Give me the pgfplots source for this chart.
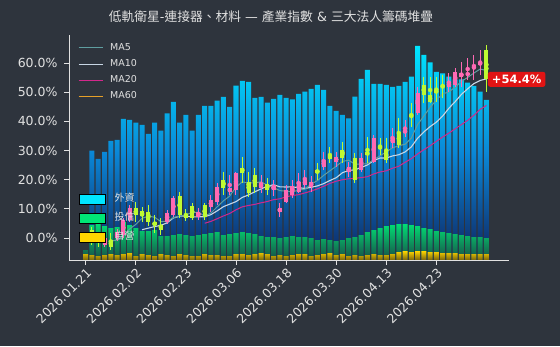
\documentclass[border=0pt]{standalone}
\usepackage{fontspec}
\setmainfont{DejaVu Sans}
\newfontfamily\cjk{Noto Sans CJK TC}
\usepackage{pgfplots}
\usepackage{pgfplotstable}
\pgfplotsset{compat=1.18}

\definecolor{bgc}{RGB}{46,52,61}
\definecolor{lgray}{RGB}{225,225,225}
\definecolor{pinkc}{RGB}{255,105,180}
\definecolor{limec}{RGB}{190,250,50}
\definecolor{ma5c}{RGB}{95,158,160}
\definecolor{ma10c}{RGB}{200,214,229}
\definecolor{ma20c}{RGB}{210,40,140}
\definecolor{ma60c}{RGB}{230,160,40}
\definecolor{cyanT}{RGB}{0,229,255}
\definecolor{cyanM}{RGB}{10,135,215}
\definecolor{cyanB}{RGB}{15,35,95}
\definecolor{grnT}{RGB}{0,230,118}
\definecolor{grnB}{RGB}{25,75,70}
\definecolor{ylwT}{RGB}{255,214,0}
\definecolor{ylwB}{RGB}{120,100,10}
\definecolor{redc}{RGB}{225,20,20}

% chip bars (heights in pixel units above the baseline)
\pgfplotstableread{
i inst itr dlr
0 2 10 6
1 109.3 35 5
2 101 36 4
3 108 34 5
4 119 32 6
5 120 33 5
6 141 38 6
7 140 35 7
8 137.3 32 4
9 135 29 6
10 126 29 5
11 137.3 30 4
12 129.3 24 6
13 146.7 24 5
14 158 25 4
15 137.3 26 6
16 145 25 5
17 129.3 24 4
18 145 25 4
19 154 26 6
20 154 27 5
21 159.3 28 5
22 163 25 4
23 153 26 4
24 174.3 27 6
25 179 28 6
26 178 27 5
27 162 26 6
28 163 24 7
29 157.3 23 6
30 161 23 4
31 165 22 5
32 162 23 4
33 160.7 24 5
34 166 23 6
35 168.3 23 6
36 171 22 4
37 175 20 5
38 170 21 6
39 154 20 7
40 149 19 5
41 145 20 6
42 141.7 22 4
43 163.3 23 5
44 181 25 4
45 190 28 5
46 176 30 6
47 176 32 5
48 175 34 5
49 173 35 6
50 174 36 8
51 178 36 9
52 183.3 35 8
53 214 34 9
54 205 32 9
55 197.7 31 8
56 188 29 8
57 186.7 28 7
58 183.3 27 7
59 180.7 26 7
60 180.7 25 6
61 177.3 24 6
62 174 23 6
63 168.3 23 6
64 160 22 6
}\chips

% rising candles (pink)
\pgfplotstableread{
i O H L C
0 -0.3 1.0 -1.0 0
3 -2.40 0.69 -3.09 0
5 0 3.09 -1.03 2.06
6 1.03 6.86 0 6.17
7 6.17 11.31 5.48 10.28
13 5.48 9.60 4.80 8.57
14 7.88 14.40 7.20 13.71
18 7.20 10.28 6.17 8.91
20 10.63 14.74 8.91 13.03
21 12.34 18.85 11.31 17.48
23 15.77 21.60 14.74 17.14
24 16.45 22.62 14.74 22.28
28 17.14 21.60 15.43 18.85
30 16.45 19.88 14.40 18.17
31 8.91 12.00 7.20 10.28
32 12.34 18.17 12.00 16.45
33 14.74 19.88 13.71 17.83
34 15.77 22.28 15.43 19.20
35 18.17 23.31 17.14 19.88
36 17.48 21.25 15.77 19.20
38 24.34 29.48 23.31 26.74
40 26.05 29.48 24.34 27.77
42 22.62 26.05 20.91 24.34
44 23.31 29.14 22.62 27.42
46 26.05 35.31 25.71 34.28
49 32.57 37.71 30.85 34.28
51 35.99 40.45 34.62 37.02
53 42.85 51.76 42.16 49.71
58 51.76 56.50 50.00 53.50
59 52.45 58.28 51.76 56.90
60 55.19 60.33 51.76 56.56
61 55.88 61.70 54.16 56.56
62 58.62 62.73 54.16 59.30
63 59.30 64.45 55.88 60.33
}\upc

% falling candles (lime)
\pgfplotstableread{
i O H L C
1 2.74 3.77 -2.40 -0.69
2 1.03 2.06 -3.09 -1.71
4 -0.69 1.71 -4.11 -3.09
8 10.28 12.34 5.48 7.88
9 9.26 10.63 5.48 7.54
10 8.91 11.31 4.11 5.48
11 5.48 7.88 1.71 4.46
12 4.46 6.86 1.03 2.74
15 14.40 15.77 6.86 7.88
16 8.23 9.94 5.83 6.86
17 10.97 12.00 6.17 6.86
19 11.31 12.00 6.17 7.20
22 19.88 22.62 14.74 17.14
25 24.00 27.77 18.85 22.28
26 19.20 22.62 14.05 15.43
27 21.60 24.00 15.43 17.48
29 18.51 20.57 14.74 16.45
37 23.31 25.71 19.88 22.28
39 28.45 31.19 25.71 27.08
41 30.17 32.91 25.71 27.42
43 27.42 29.14 18.85 19.88
45 29.48 34.62 25.71 28.45
47 31.19 34.28 28.45 30.85
48 30.17 34.28 25.71 26.74
50 36.34 41.14 30.85 31.88
52 42.16 46.28 38.05 41.48
54 52.45 55.19 46.28 49.02
55 49.02 55.19 46.28 46.62
56 50.73 55.19 46.62 49.71
57 52.45 55.88 47.99 51.76
64 64.45 66.16 50.05 54.40
}\dnc

\pgfplotsset{
  wick/.style={forget plot, only marks, mark=none, color=#1, draw=#1,
    error bars/.cd, y dir=both, y explicit, error mark=none,
    error bar style={color=#1, draw=#1, line width=1pt}},
  body/.style={forget plot, only marks, mark=none, color=#1, draw=#1,
    error bars/.cd, y dir=both, y explicit, error mark=none,
    error bar style={color=#1, draw=#1, line width=4pt}},
}

\begin{document}
\begin{tikzpicture}
\fill[bgc] (0,0) rectangle (560pt,346pt);

% ---------- chip bars axis ----------
\begin{axis}[
  at={(69pt,86pt)}, anchor=south west, scale only axis,
  width=440pt, height=225pt,
  xmin=-2.67, xmax=67.6, ymin=0, ymax=225,
  hide axis,
  legend style={at={(rel axis cs:0,1)}, anchor=north west, xshift=8pt, yshift=-6pt,
    draw=none, fill=bgc, text=lgray, font=\fontsize{9.5}{11}\selectfont,
    inner sep=1pt, row sep=4.6pt,
    nodes={inner sep=1pt, text height=7.5pt, text depth=2pt}},
  legend cell align=left,
  legend image code/.code={\draw[#1] (0pt,0pt) -- (24pt,0pt); \path (30pt,0pt);},
]
\addplot[ybar, bar width=0.8, bar shift=0pt, draw=none,
  top color=cyanT, bottom color=cyanB, middle color=cyanM, forget plot]
  table[x=i, y=inst] {\chips};
\addplot[ybar, bar width=0.8, bar shift=0pt, draw=none,
  top color=grnT, bottom color=grnB, forget plot]
  table[x=i, y=itr] {\chips};
\addplot[ybar, bar width=0.8, bar shift=0pt, draw=none,
  top color=ylwT, bottom color=ylwB, forget plot]
  table[x=i, y=dlr] {\chips};
\addlegendimage{color=ma5c, line width=1pt}
\addlegendentry{MA5}
\addlegendimage{color=ma10c, line width=1pt}
\addlegendentry{MA10}
\addlegendimage{color=ma20c, line width=1pt}
\addlegendentry{MA20}
\addlegendimage{color=ma60c, line width=1pt}
\addlegendentry{MA60}
\end{axis}

% ---------- price axis ----------
\begin{axis}[
  at={(69pt,86pt)}, anchor=south west, scale only axis,
  width=440pt, height=225pt,
  xmin=-2.67, xmax=67.6, ymin=-7.54, ymax=69.6,
  axis x line*=bottom, axis y line*=left,
  axis line style={draw=lgray, line width=0.8pt},
  xtick={0,8,16,24,32,40,48,56},
  xticklabels={2026.01.21,2026.02.02,2026.02.23,2026.03.06,2026.03.18,2026.03.30,2026.04.13,2026.04.23},
  x tick label style={rotate=45, anchor=north east, font=\fontsize{12.5}{14}\selectfont, text=lgray, inner sep=1.5pt},
  ytick={0,10,20,30,40,50,60},
  yticklabel={\pgfmathprintnumber[fixed,fixed zerofill,precision=1]{\tick}\%},
  y tick label style={font=\fontsize{12.5}{14}\selectfont, text=lgray, xshift=-3pt},
  /pgf/number format/assume math mode=true,
  tick align=outside, major tick length=5pt,
  tick style={draw=lgray, line width=0.8pt},
  clip=false,
  title={{\cjk 低軌衛星}-{\cjk 連接器、材料} — {\cjk 產業指數} \& {\cjk 三大法人籌碼堆疊}},
  title style={font=\fontsize{12.75}{14}\selectfont, text=lgray,
    at={(axis description cs:0.5,1)}, anchor=base, yshift=8pt, xshift=-18pt},
  legend style={at={(rel axis cs:0,0)}, anchor=south west, xshift=10pt, yshift=17pt,
    draw=none, fill=none, text=lgray, font=\fontsize{10}{12}\selectfont,
    inner sep=0pt, row sep=7pt, column sep=0pt,
    nodes={inner sep=1pt, text height=8pt, text depth=2pt}},
  legend cell align=left,
  legend image code/.code={\fill[#1] (0pt,-5pt) rectangle (26pt,5pt); \path (34pt,0pt);},
]
% moving averages
\addplot[ma20c, line width=1pt, forget plot] coordinates {(19,5.06)(20,5.71)(21,6.62)(22,7.56)(23,8.42)(24,9.68)(25,10.69)(26,11.16)(27,11.52)(28,12.07)(29,12.51)(30,13.15)(31,13.44)(32,14.12)(33,14.59)(34,14.86)(35,15.46)(36,16.08)(37,16.85)(38,17.74)(39,18.73)(40,19.47)(41,19.97)(42,20.33)(43,20.46)(44,20.72)(45,21.03)(46,21.97)(47,22.64)(48,23.04)(49,23.93)(50,24.61)(51,25.95)(52,27.20)(53,28.80)(54,30.29)(55,31.62)(56,33.15)(57,34.62)(58,35.96)(59,37.45)(60,38.89)(61,40.35)(62,42.10)(63,44.12)(64,45.47)};
\addplot[ma10c, line width=1.1pt, forget plot] coordinates {(9,2.84)(10,3.39)(11,3.91)(12,4.35)(13,5.21)(14,6.89)(15,7.47)(16,7.54)(17,7.20)(18,7.30)(19,7.27)(20,8.02)(21,9.32)(22,10.76)(23,11.62)(24,12.48)(25,13.92)(26,14.78)(27,15.84)(28,16.83)(29,17.76)(30,18.27)(31,17.55)(32,17.48)(33,17.55)(34,17.24)(35,17.00)(36,17.38)(37,17.86)(38,18.65)(39,19.71)(40,20.67)(41,22.39)(42,23.17)(43,23.38)(44,24.20)(45,25.06)(46,26.57)(47,27.42)(48,27.42)(49,28.14)(50,28.55)(51,29.51)(52,31.23)(53,34.21)(54,36.37)(55,38.19)(56,39.73)(57,41.82)(58,44.50)(59,46.76)(60,49.23)(61,51.18)(62,52.96)(63,54.03)(64,54.56)};
\addplot[ma5c, line width=1pt, forget plot] coordinates {(4,-1.10)(5,-0.69)(6,0.69)(7,3.08)(8,4.66)(9,6.79)(10,7.47)(11,7.13)(12,5.62)(13,5.76)(14,6.99)(15,7.47)(16,7.95)(17,8.78)(18,8.84)(19,7.54)(20,8.57)(21,10.70)(22,12.75)(23,14.40)(24,17.41)(25,19.26)(26,18.85)(27,18.92)(28,19.26)(29,18.10)(30,17.28)(31,16.25)(32,16.04)(33,15.84)(34,16.39)(35,16.73)(36,18.51)(37,19.68)(38,21.46)(39,23.04)(40,24.61)(41,26.26)(42,26.67)(43,25.30)(44,25.37)(45,25.50)(46,26.87)(47,28.18)(48,29.55)(49,30.92)(50,31.61)(51,32.15)(52,34.28)(53,38.87)(54,41.82)(55,44.77)(56,47.31)(57,49.36)(58,50.12)(59,51.70)(60,53.69)(61,55.06)(62,56.56)(63,57.93)(64,57.43)};
% candle wicks
\addplot[wick=pinkc]
  table[x=i, y expr={(\thisrow{H}+\thisrow{L})/2}, y error expr={(\thisrow{H}-\thisrow{L})/2}] {\upc};
\addplot[wick=limec]
  table[x=i, y expr={(\thisrow{H}+\thisrow{L})/2}, y error expr={(\thisrow{H}-\thisrow{L})/2}] {\dnc};
% candle bodies
\addplot[body=pinkc]
  table[x=i, y expr={(\thisrow{O}+\thisrow{C})/2}, y error expr={(\thisrow{C}-\thisrow{O})/2}] {\upc};
\addplot[body=limec]
  table[x=i, y expr={(\thisrow{O}+\thisrow{C})/2}, y error expr={(\thisrow{O}-\thisrow{C})/2}] {\dnc};
% chip legend
\addlegendimage{fill=cyanT}
\addlegendentry{{\cjk 外資}}
\addlegendimage{fill=grnT}
\addlegendentry{{\cjk 投信}}
\addlegendimage{fill=ylwT}
\addlegendentry{{\cjk 自營}}
% last value label
\node[fill=redc, text=white, font=\bfseries\fontsize{11.5}{13}\selectfont,
  rounded corners=2.5pt, inner xsep=4pt, inner ysep=3.2pt, anchor=west]
  at (axis cs:64.2,54.4) {+54.4\%};
\end{axis}

\pgfresetboundingbox
\useasboundingbox (0,0) rectangle (560pt,346pt);
\end{tikzpicture}
\end{document}
